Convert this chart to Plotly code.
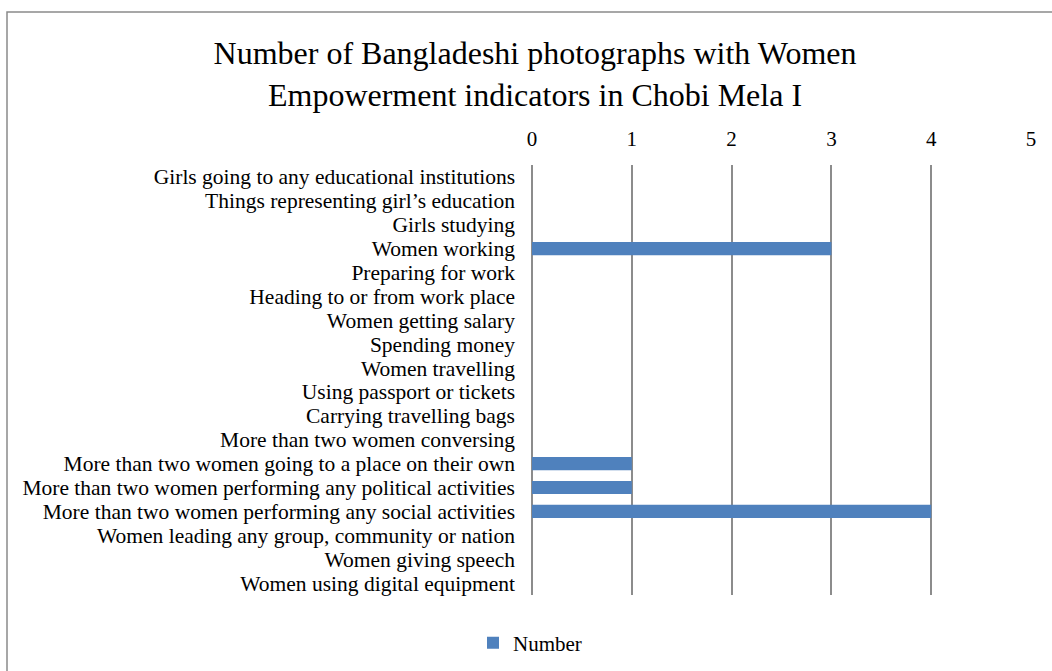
import plotly.graph_objects as go

categories = [
    "Girls going to any educational institutions",
    "Things representing girl\u2019s education",
    "Girls studying",
    "Women working",
    "Preparing for work",
    "Heading to or from work place",
    "Women getting salary",
    "Spending money",
    "Women travelling",
    "Using passport or tickets",
    "Carrying travelling bags",
    "More than two women conversing",
    "More than two women going to a place on their own",
    "More than two women performing any political activities",
    "More than two women performing any social activities",
    "Women leading any group, community or nation",
    "Women giving speech",
    "Women using digital equipment",
]
values = [0, 0, 0, 3, 0, 0, 0, 0, 0, 0, 0, 0, 1, 1, 4, 0, 0, 0]
x_ticks = [0, 1, 2, 3, 4, 5]

FONT = "Liberation Serif"

fig = go.Figure()
fig.add_trace(go.Bar(
    y=categories, x=values, orientation="h", name="Number",
    marker=dict(color="#4F81BD", line=dict(width=0)),
    showlegend=True,
))

W, H = 1052, 671
ml, mr, mt, mb = 532, 21, 165, 76
pw, ph = W - ml - mr, H - mt - mb

def px_x(p):
    return (p - ml) / pw

def px_y(p):
    return (H - mb - p) / ph

fig.update_layout(
    width=W, height=H,
    margin=dict(l=ml, r=mr, t=mt, b=mb, autoexpand=False),
    paper_bgcolor="white", plot_bgcolor="white",
    font=dict(family=FONT, size=21, color="black"),
    title=dict(
        text="Number of Bangladeshi photographs with Women<br>Empowerment indicators in Chobi Mela I",
        x=535 / W, xanchor="center", xref="container",
        y=1 - 64 / H, yanchor="top", yref="container",
        font=dict(family=FONT, size=32, color="black"),
    ),
    bargap=0.45,
    xaxis=dict(
        side="top", range=[0, 5], tickvals=x_ticks, ticktext=[str(v) for v in x_ticks],
        showgrid=True, gridcolor="#8c8c8c", gridwidth=1.5,
        zeroline=True, zerolinecolor="#8c8c8c", zerolinewidth=1.5,
        showline=False, ticks="", ticklabelstandoff=14,
        tickfont=dict(family=FONT, size=21),
        fixedrange=True,
    ),
    yaxis=dict(
        autorange="reversed", showgrid=False, zeroline=False, showline=False,
        tickmode="array", tickvals=categories, ticktext=categories,
        ticks="", ticklabelstandoff=16, tickfont=dict(family=FONT, size=21.5),
    ),
    legend=dict(
        orientation="h", x=px_x(530), xanchor="center", y=px_y(643), yanchor="middle",
        font=dict(family=FONT, size=21), itemwidth=30,
    ),
    shapes=[dict(
        type="rect", xref="paper", yref="paper",
        x0=px_x(7), x1=px_x(1070), y0=px_y(690), y1=px_y(12),
        line=dict(color="#8a8a8a", width=1.5), fillcolor="rgba(0,0,0,0)", layer="below",
    )],
)

fig.write_html("out.html")
